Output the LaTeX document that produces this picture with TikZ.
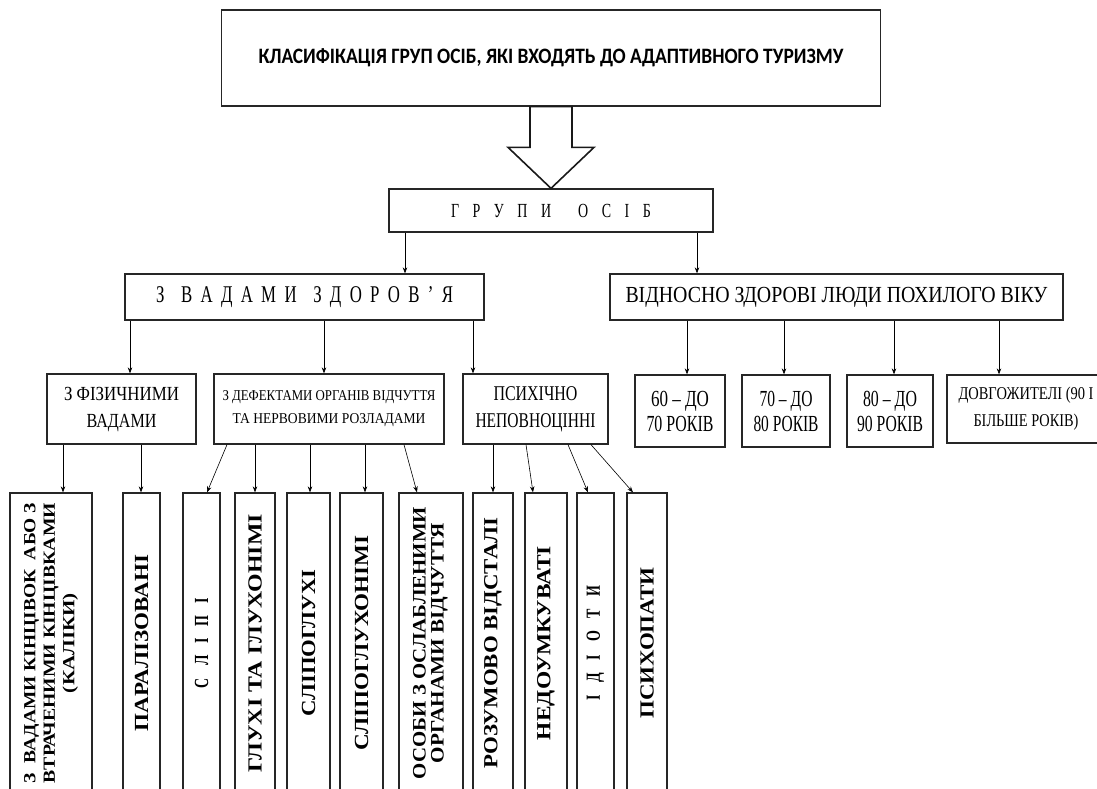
\documentclass[tikz,border=0pt]{standalone}
\usepackage{fontspec}
\setmainfont{Liberation Serif}
\newfontfamily\titelfont{Carlito}
\newfontfamily\engfont[FakeStretch=0.7]{Liberation Serif}
\usetikzlibrary{arrows.meta}
\newcommand{\fw}[2]{\resizebox{#1pt}{\height}{#2}}
\newcommand{\sw}[2]{\makebox[#1pt][s]{#2}}
\tikzset{
  box/.style={draw=black!85, line width=1.3pt, fill=white, inner sep=0pt, align=center, minimum width=#1pt},
  senk/.style={box=#1, minimum height=300pt, font=\bfseries\fontsize{20}{22}\selectfont},
  pfeil/.style={-{Stealth[length=6pt,width=4.5pt]}, line width=0.6pt},
  hohl/.style={draw=black!90, line width=1.6pt, fill=white, line join=miter}
}
\begin{document}
\begin{tikzpicture}[x=1pt,y=-1pt]
  \useasboundingbox (0,0) rectangle (1097,789);
  \clip (0,0) rectangle (1097,789);
  \fill[white] (0,0) rectangle (1097,789);                                                  % Hintergrund
  % Ebene 0 und 1
  \node[box=659, minimum height=96pt, font=\titelfont\bfseries\fontsize{22}{24}\selectfont] (titel) at (551,58)
    {\fw{585}{КЛАСИФІКАЦІЯ ГРУП ОСІБ, ЯКІ ВХОДЯТЬ ДО АДАПТИВНОГО ТУРИЗМУ}};
  \node[box=324, minimum height=43pt, font=\engfont\fontsize{20}{22}\selectfont] (grp) at (551,210.5)
    {\sw{200}{Г Р У П И \ О С І Б}};
  % Ebene 2
  \node[box=359, minimum height=46pt, font=\engfont\fontsize{24}{24}\selectfont] (vady) at (304.5,297)
    {\sw{297}{З \ В А Д А М И \ З Д О Р О В ’ Я}};
  \node[box=453, minimum height=46pt, font=\fontsize{23}{24}\selectfont] (vidn) at (836.5,297)
    {\fw{422}{ВІДНОСНО ЗДОРОВІ ЛЮДИ ПОХИЛОГО ВІКУ}};
  % Ebene 3
  \node[box=149, minimum height=70pt, font=\fontsize{20}{27}\selectfont] (fiz) at (121.5,409)
    {\fw{115}{З ФІЗИЧНИМИ}\\\fw{70}{ВАДАМИ}};
  \node[box=230, minimum height=70pt, font=\fontsize{15}{23}\selectfont] (def) at (329,409)
    {\fw{213}{З ДЕФЕКТАМИ ОРГАНІВ ВІДЧУТТЯ}\\\fw{193}{ТА НЕРВОВИМИ РОЗЛАДАМИ}};
  \node[box=145, minimum height=70pt, font=\fontsize{21}{27}\selectfont] (psy) at (535.5,409)
    {\fw{84}{ПСИХІЧНО}\\\fw{120}{НЕПОВНОЦІННІ}};
  \node[box=90, minimum height=72pt, font=\fontsize{23}{25}\selectfont] (a60) at (680,411)
    {\fw{58}{60 – ДО}\\\fw{67}{70 РОКІВ}};
  \node[box=88, minimum height=72pt, font=\fontsize{23}{25}\selectfont] (a70) at (786,411)
    {\fw{53}{70 – ДО}\\\fw{65}{80 РОКІВ}};
  \node[box=86, minimum height=72pt, font=\fontsize{23}{25}\selectfont] (a80) at (890,411)
    {\fw{54}{80 – ДО}\\\fw{66}{90 РОКІВ}};
  \node[box=158, minimum height=68pt, font=\fontsize{18}{27}\selectfont] (dovg) at (1026,409)
    {\fw{135}{ДОВГОЖИТЕЛІ (90 І}\\\fw{105}{БІЛЬШЕ РОКІВ)}};
  % Ebene 4 (senkrecht)
  \node[senk=82, font=\bfseries\fontsize{17}{19.5}\selectfont] (b1) at (51,643)
    {\rotatebox{90}{\begin{tabular}{@{}c@{}}\fw{280}{З\ \ ВАДАМИ КІНЦІВОК\ \ АБО З}\\\fw{280}{ВТРАЧЕНИМИ КІНЦІВКАМИ}\\\fw{100}{(КАЛІКИ)}\end{tabular}}};
  \node[senk=37] (b2) at (141.5,643) {\rotatebox{90}{\fw{176}{ПАРАЛІЗОВАНІ}}};
  \node[senk=37] (b3) at (201.5,643) {\rotatebox{90}{\engfont\sw{90}{С Л І П І}}};
  \node[senk=40] (b4) at (255,643) {\rotatebox{90}{\fw{258}{ГЛУХІ ТА ГЛУХОНІМІ}}};
  \node[senk=43] (b5) at (308.5,643) {\rotatebox{90}{\fw{147}{СЛІПОГЛУХІ}}};
  \node[senk=43] (b6) at (361.5,643) {\rotatebox{90}{\fw{215}{СЛІПОГЛУХОНІМІ}}};
  \node[senk=64, font=\bfseries\fontsize{19}{18}\selectfont] (b7) at (431,643)
    {\rotatebox{90}{\begin{tabular}{@{}c@{}}\fw{272}{ОСОБИ З ОСЛАБЛЕНИМИ}\\\fw{240}{ОРГАНАМИ ВІДЧУТТЯ}\end{tabular}}};
  \node[senk=40] (b8) at (493,643) {\rotatebox{90}{\fw{251}{РОЗУМОВО ВІДСТАЛІ}}};
  \node[senk=42] (b9) at (546,643) {\rotatebox{90}{\fw{194}{НЕДОУМКУВАТІ}}};
  \node[senk=37] (b10) at (595.5,643) {\rotatebox{90}{\engfont\sw{115}{І Д І О Т И}}};
  \node[senk=40] (b11) at (647,643) {\rotatebox{90}{\fw{151}{ПСИХОПАТИ}}};
  % Blockpfeil
  \draw[hohl] ([xshift=-21pt]titel.south) -- ([xshift=21pt]titel.south) -- ([xshift=21pt,yshift=41pt]grp.north)
    -- ([xshift=43pt,yshift=41pt]grp.north) -- (grp.north) -- ([xshift=-43pt,yshift=41pt]grp.north)
    -- ([xshift=-21pt,yshift=41pt]grp.north) -- cycle;
  % senkrechte Pfeile
  \foreach \von/\dx/\nach in {grp/-146/vady, grp/146/vidn, vady/-174.5/fiz, vady/19.5/def, vady/168.5/psy,
      vidn/-149.5/a60, vidn/-52.5/a70, vidn/57.5/a80, vidn/162.5/dovg, fiz/-58.5/b1, fiz/19.5/b2,
      def/-74/b4, def/-19/b5, def/36/b6, psy/-42.5/b8}
    {\coordinate (p) at ([xshift=\dx pt]\von.south);
     \draw[pfeil] (p) -- (p |- \nach.north);}
  % schraege Pfeile
  \foreach \von/\da/\nach/\db in {def/-102/b3/5.5, def/75/b7/-14, psy/-9.5/b9/-13, psy/32.5/b10/-7.5, psy/55.5/b11/-14}
    \draw[pfeil] ([xshift=\da pt]\von.south) -- ([xshift=\db pt]\nach.north);
\end{tikzpicture}
\end{document}
